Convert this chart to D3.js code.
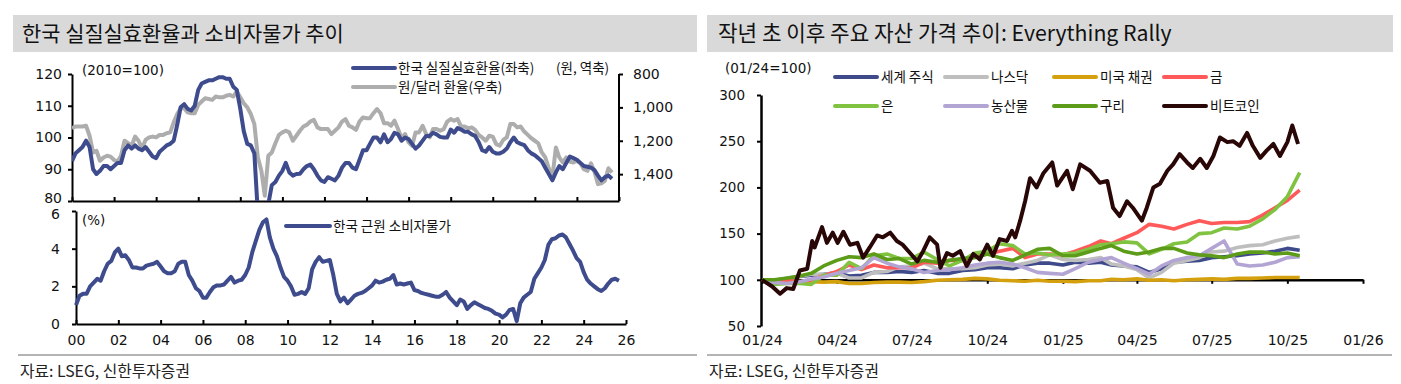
<!DOCTYPE html>
<html><head><meta charset="utf-8">
<script src="https://cdn.jsdelivr.net/npm/d3@7"></script>
<style>body{margin:0;background:#fff;} svg{display:block;}</style>
</head><body><svg id="c" width="1401" height="384"></svg>
<script>
// ---------------- DATA ----------------
const leftTitle = "한국 실질실효환율과 소비자물가 추이";
const rightTitle = "작년 초 이후 주요 자산 가격 추이: Everything Rally";
const sourceText = "자료: LSEG, 신한투자증권";

// bi-monthly observation months, Jan 2000 .. Sep 2025
const leftDates = d3.timeMonth.range(new Date(2000,0,1), new Date(2025,9,1), 2);

// Korea real effective exchange rate (2010=100), left axis
const reerValues = [
 92.5,95,96,97,99,97,  90,88.5,89.5,91,91,90,  91,92,92,96,97.5,96.5,  97.5,96.5,96,97,95.5,94,
 93.5,95.5,96.5,97.5,98,99,  104,109.5,110.5,109,108.5,110,  115,117,117.5,118,118,118.5,
 119,119,118.5,118.5,116,115,  109,102,98,97.5,95,76,  72,70,79,85,86,88,
 89.5,92,89,88,88.5,88.6,  90,91,91.5,90,88,86.5,  86,87.5,87,86.5,88,90.5,
 92,92,90.5,90,93,96,  96,98,100,100,98.5,101,  98.5,99.5,101.5,101,99,100,
 99.5,98,96.5,97.5,99,100.5,  100.5,101.5,101,100.2,100,100,  102.5,101.5,103,102.5,101.8,101.8,
 101,100.5,98.6,96,95.5,97,  95.5,95,95,95.5,96.5,98.5,  100,98.5,98,97.6,96,95,
 94.4,93.5,92.5,90.5,88.5,86.5,  89,91,90,92,94,93.5,  93,92,91,90.8,90.5,89.7,
 88,86.5,87.5,88,87
];
// KRW per USD, right axis (reversed)
const krwValues = [
 1125,1115,1115,1115,1110,1170,  1270,1260,1320,1300,1290,1295,  1315,1325,1290,1200,1215,1230,
 1175,1200,1245,1195,1180,1175,  1180,1165,1165,1155,1150,1090,  1040,1005,1005,1030,1035,1035,
 985,965,945,950,955,935,  940,940,930,925,935,905,  940,975,1000,1040,1100,1300,
 1380,1530,1290,1270,1215,1165,  1150,1140,1150,1200,1170,1140,  1115,1105,1085,1075,1120,1130,
 1130,1130,1160,1140,1120,1085,  1070,1110,1120,1135,1085,1060,  1065,1065,1035,1010,1035,1095,
 1095,1110,1080,1130,1185,1160,  1210,1230,1150,1150,1110,1160,  1180,1130,1130,1140,1130,1085,
 1070,1080,1070,1115,1115,1125,  1120,1135,1165,1180,1200,1170,  1175,1220,1230,1195,1180,1100,
 1100,1120,1115,1145,1165,1185,  1200,1215,1270,1300,1365,1420,  1240,1300,1330,1300,1325,1330,
 1320,1335,1370,1380,1335,1385,  1460,1455,1440,1365,1390
];
// Korea core CPI (% y/y)
const cpiValues = [
 1.0,1.5,1.6,1.6,2.0,2.2,  2.4,2.3,2.8,3.2,3.35,3.8,  4.0,3.6,3.65,3.4,3.0,3.0,  2.95,2.95,3.1,3.15,3.2,3.3,
 3.05,2.8,2.7,2.7,2.8,3.2,  3.3,3.3,2.6,2.3,1.9,1.75,  1.4,1.4,1.7,1.95,2.05,2.05,  2.1,2.3,2.5,2.2,2.3,2.35,
 2.6,3.0,3.8,4.4,5.0,5.4,  5.55,4.6,4.0,3.6,3.0,2.5,  2.3,2.0,1.55,1.6,1.7,1.6,  1.9,2.9,3.3,3.55,3.3,3.35,
 3.4,2.6,1.6,1.2,1.4,1.1,  1.3,1.5,1.6,1.65,1.75,1.9,  2.05,2.3,2.2,2.25,2.35,2.4,  2.6,2.1,2.15,2.1,2.15,2.2,
 1.8,1.75,1.65,1.6,1.55,1.5,  1.45,1.45,1.55,1.7,1.4,1.2,  1.0,1.3,1.2,0.8,1.0,1.15,  1.05,0.95,0.85,0.8,0.7,0.55,
 0.5,0.35,0.5,0.75,0.8,0.15,  1.1,1.4,1.55,1.7,2.4,2.7,  3.0,3.4,4.2,4.5,4.55,4.7,  4.75,4.6,4.25,3.9,3.5,3.3,
 2.75,2.35,2.15,2.0,1.85,1.75,  1.9,2.15,2.35,2.4,2.3
];

const topLeftTicks = [80, 90, 100, 110, 120];
const topRightTicks = [800, 1000, 1200, 1400];
const cpiTicks = [0, 2, 4, 6];

// Right chart: semi-monthly dates
const assetDates = ["2024-01-01","2024-01-16","2024-02-01","2024-02-16","2024-03-01","2024-03-16","2024-04-01","2024-04-16",
 "2024-05-01","2024-05-16","2024-06-01","2024-06-16","2024-07-01","2024-07-16","2024-08-01","2024-08-16",
 "2024-09-01","2024-09-16","2024-10-01","2024-10-16","2024-11-01","2024-11-16","2024-12-01","2024-12-16",
 "2025-01-01","2025-01-16","2025-02-01","2025-02-16","2025-03-01","2025-03-16","2025-04-01","2025-04-16",
 "2025-05-01","2025-05-16","2025-06-01","2025-06-16","2025-07-01","2025-07-16","2025-08-01","2025-08-16",
 "2025-09-01","2025-09-16","2025-10-01","2025-10-16"];
const worldEquity = [100,99.5,101.5,103.5,105,106,107.5,104,105,108,108,109,108,110,107,107,110,111,113,113,112,116,118,118,
 116,119,118,119,116,115,114,108,112,119,120,121,124,125,126,128,129,131,134,132];
const nasdaq = [100,99,102,104,106,106,107,102,102,108,109,114,115,118,112,112,112,113,116,117,115,118,121,127,
 122,121,122,124,117,115,111,102,108,118,121,124,130,131,135,137,138,142,145,147];
const usBonds = [100,99,99.5,98,98,97.5,98,96,96,97,97.5,97.5,97,98,99.5,100,100.5,101.5,101,99.5,99,98.5,99.5,98.5,
 98.5,98,99,99,100.5,100,101,99.5,100,99,100,100.5,101,100.5,101.5,101.5,102,102.5,102.5,102.5];
const gold = [100,98.5,99.5,97.5,100,104.5,109,116,111,116,113,113,113,119,118,121,121,125,128,131,134,124,128,128,
 127,131,136,142,139,145,151,160,158,155,160,164,161,162,162,163,170,178,186,197];
const silver = [100,95,96,96,95,105,105,119,112,126,128,123,123,130,122,115,121,129,131,139,137,128,129,127,
 128,129,133,138,139,141,140,128,133,139,141,150,151,156,155,158,166,176,190,216];
const agriculture = [100,97,96,98,101,103,107,110,113,124,118,114,112,108,110,111,113,116,118,119,117,113,108,107,
 106,112,119,122,124,118,112,106,115,121,124,126,134,142,117,115,116,119,124,125];
const copper = [100,100,102,104,107,115,121,125,124,128,122,123,117,121,119,121,123,124,128,124,121,127,133,134,
 126,126,130,134,137,131,128,130,134,134,129,127,126,124,128,130,130,128,129,126];

const btcDates = ["2024-01-01","2024-01-13","2024-01-23","2024-01-31","2024-02-08","2024-02-16","2024-02-25","2024-03-02",
 "2024-03-05","2024-03-14","2024-03-20","2024-03-27","2024-04-02","2024-04-09","2024-04-17","2024-04-26","2024-05-03",
 "2024-05-11","2024-05-20","2024-05-27","2024-06-05","2024-06-13","2024-06-20","2024-06-29","2024-07-08","2024-07-15",
 "2024-07-23","2024-08-01","2024-08-05","2024-08-13","2024-08-20","2024-08-29","2024-09-06","2024-09-14","2024-09-22",
 "2024-10-01","2024-10-08","2024-10-16","2024-10-25","2024-10-31","2024-11-04","2024-11-10","2024-11-16","2024-11-22",
 "2024-11-30","2024-12-08","2024-12-19","2024-12-25","2025-01-06","2025-01-13","2025-01-22","2025-02-03","2025-02-15",
 "2025-02-24","2025-03-03","2025-03-11","2025-03-20","2025-03-27","2025-04-07","2025-04-13","2025-04-21","2025-04-29",
 "2025-05-08","2025-05-15","2025-05-23","2025-06-01","2025-06-08","2025-06-17","2025-06-25","2025-07-03","2025-07-11",
 "2025-07-20","2025-07-27","2025-08-04","2025-08-13","2025-08-20","2025-08-29","2025-09-06","2025-09-14","2025-09-22",
 "2025-10-01","2025-10-07","2025-10-14"];
const bitcoin = [100,93,85,91,90,110,112,142,135,157,140,151,140,152,138,140,124,135,148,146,151,142,138,129,120,131,
 146,138,113,129,126,131,115,128,122,138,126,144,142,153,146,164,185,210,200,215,227,202,218,198,225,218,205,
 207,178,169,185,178,164,178,200,204,218,225,236,227,221,231,221,234,254,249,250,245,259,245,232,240,247,234,
 249,267,247];

const assetNames = ["세계 주식","나스닥","미국 채권","금","은","농산물","구리","비트코인"];
const assetColors = ["#3E4A8A","#BEBEBE","#D4A00E","#FF5959","#80C341","#B3A5D3","#5C9C18","#2A0707"];
const assetTicks = [50, 100, 150, 200, 250, 300];
const assetXTicks = ["2024-01-01","2024-04-01","2024-07-01","2024-10-01","2025-01-01","2025-04-01","2025-07-01","2025-10-01","2026-01-01"];

// ---------------- DRAW ----------------
const KR = "'Noto Sans CJK KR','Noto Sans',sans-serif";
const NUM = "'DejaVu Sans','Noto Sans CJK KR',sans-serif";
const svg = d3.select("#c");
const parse = d3.timeParse("%Y-%m-%d");

function fitText(sel, target) {
  const w = sel.node().getComputedTextLength();
  const fs = parseFloat(sel.attr("font-size"));
  sel.attr("font-size", (fs * target / w).toFixed(2));
}

// Title boxes
[[13, 697, leftTitle, 22, 322], [707, 1393, rightTitle, 718, 454]].forEach(([x0, x1, t, tx, tw]) => {
  svg.append("rect").attr("x", x0).attr("y", 15).attr("width", x1 - x0).attr("height", 37).attr("fill", "#D9D9D9");
  const s = svg.append("text").attr("x", tx).attr("y", 41).attr("font-family", KR).attr("font-size", 19)
    .attr("fill", "#111").text(t);
  fitText(s, tw);
});
// separators + source
[[18, 697], [707, 1392]].forEach(([x0, x1]) => {
  svg.append("line").attr("x1", x0).attr("x2", x1).attr("y1", 355).attr("y2", 355)
    .attr("stroke", "#B4B4B4").attr("stroke-width", 2);
  const s = svg.append("text").attr("x", x0 + 2).attr("y", 377).attr("font-family", KR).attr("font-size", 15)
    .attr("fill", "#222").text(sourceText);
  fitText(s, 170);
});

function styleAxis(g, fs) {
  g.select(".domain").attr("stroke", "#000").attr("stroke-width", 2);
  g.selectAll(".tick line").attr("stroke", "#000").attr("stroke-width", 2);
  g.selectAll("text").attr("font-family", NUM).attr("font-size", fs).attr("fill", "#111");
}

// ---- Top-left chart ----
const xT = d3.scaleTime().domain([new Date(2000,0,1), new Date(2026,0,1)]).range([72, 619]);
const yTL = d3.scaleLinear().domain([80, 120]).range([201, 74]);
const yTR = d3.scaleLinear().domain([800, 1561]).range([74, 201]);

svg.append("clipPath").attr("id", "clipT").append("rect").attr("x", 72).attr("y", 70).attr("width", 548).attr("height", 131);

const gTL = svg.append("g").attr("transform", "translate(72,0)")
  .call(d3.axisLeft(yTL).tickValues(topLeftTicks).tickSize(4).tickSizeOuter(0).tickPadding(6));
styleAxis(gTL, 14);
gTL.selectAll(".tick text").filter(d => d === 80).attr("dy", "0.1em");
const gTR = svg.append("g").attr("transform", "translate(619,0)")
  .call(d3.axisRight(yTR).tickValues(topRightTicks).tickSize(4).tickSizeOuter(0).tickPadding(10).tickFormat(d3.format(",")));
styleAxis(gTR, 14);
gTR.select(".domain").attr("d", "M0,74V201");
const gTB = svg.append("g").attr("transform", "translate(0,201)")
  .call(d3.axisBottom(xT).ticks(d3.timeYear.every(2)).tickSize(-4).tickSizeOuter(0).tickFormat(""));
styleAxis(gTB, 14);

const krwLine = d3.line().x((d, i) => xT(leftDates[i])).y(d => yTR(d)).curve(d3.curveLinear);
const reerLine = d3.line().x((d, i) => xT(leftDates[i])).y(d => yTL(d)).curve(d3.curveLinear);
const plotT = svg.append("g").attr("clip-path", "url(#clipT)");
plotT.append("path").attr("d", krwLine(krwValues)).attr("fill", "none").attr("stroke", "#ADADAD")
  .attr("stroke-width", 4).attr("stroke-linejoin", "round");
plotT.append("path").attr("d", reerLine(reerValues)).attr("fill", "none").attr("stroke", "#3E4C8E")
  .attr("stroke-width", 4).attr("stroke-linejoin", "round");

svg.append("text").attr("x", 82).attr("y", 75).attr("font-family", NUM).attr("font-size", 13.5).attr("fill", "#111").text("(2010=100)");
svg.append("text").attr("x", 556).attr("y", 73).attr("font-family", KR).attr("font-size", 13.5).attr("fill", "#111").text("(원, 역축)");
[["한국 실질실효환율(좌축)", "#3E4C8E", 68], ["원/달러 환율(우축)", "#ADADAD", 87]].forEach(([t, c, y]) => {
  svg.append("line").attr("x1", 353).attr("x2", 395).attr("y1", y).attr("y2", y).attr("stroke", c)
    .attr("stroke-width", 4).attr("stroke-linecap", "round");
  svg.append("text").attr("x", 398).attr("y", y + 5).attr("font-family", KR).attr("font-size", 13.5).attr("fill", "#111").text(t);
});

// ---- Bottom-left chart ----
const xB = d3.scaleTime().domain([new Date(2000,0,1), new Date(2026,0,1)]).range([76, 626]);
const yB = d3.scaleLinear().domain([0, 6]).range([324, 211]);
const gBL = svg.append("g").attr("transform", "translate(76,0)")
  .call(d3.axisLeft(yB).tickValues(cpiTicks).tickSize(4).tickSizeOuter(0).tickPadding(12).tickFormat(d3.format("d")));
styleAxis(gBL, 14);
gBL.selectAll(".tick text").filter(d => d === 6).attr("dy", "0.5em");
const gBB = svg.append("g").attr("transform", "translate(0,324)")
  .call(d3.axisBottom(xB).ticks(d3.timeYear.every(2)).tickSize(-4).tickSizeOuter(0).tickPadding(11)
    .tickFormat(d3.timeFormat("%y")));
styleAxis(gBB, 14);
const cpiLine = d3.line().x((d, i) => xB(leftDates[i])).y(d => yB(d)).curve(d3.curveLinear);
svg.append("path").attr("d", cpiLine(cpiValues)).attr("fill", "none").attr("stroke", "#3E4C8E")
  .attr("stroke-width", 4).attr("stroke-linejoin", "round");
svg.append("text").attr("x", 82).attr("y", 225).attr("font-family", NUM).attr("font-size", 13.5).attr("fill", "#111").text("(%)");
svg.append("line").attr("x1", 286).attr("x2", 330).attr("y1", 226).attr("y2", 226).attr("stroke", "#3E4C8E")
  .attr("stroke-width", 4).attr("stroke-linecap", "round");
svg.append("text").attr("x", 333).attr("y", 231).attr("font-family", KR).attr("font-size", 13.5).attr("fill", "#111").text("한국 근원 소비자물가");

// ---- Right chart ----
const xR = d3.scaleTime().domain([parse("2024-01-01"), parse("2026-01-01")]).range([762, 1363]);
const yR = d3.scaleLinear().domain([50, 300]).range([326, 95]);
const gRL = svg.append("g").attr("transform", "translate(761,0)")
  .call(d3.axisLeft(yR).tickValues(assetTicks).tickSize(4).tickSizeOuter(0).tickPadding(12));
styleAxis(gRL, 13.5);
gRL.select(".domain").attr("stroke-width", 2.5);
const gRX = svg.append("g").attr("transform", `translate(0,${yR(100)})`)
  .call(d3.axisBottom(xR).tickValues(assetXTicks.map(parse)).tickSize(4).tickSizeOuter(0).tickFormat(""));
styleAxis(gRX, 13.5);
gRX.select(".domain").attr("stroke-width", 2.5);
const gRLab = svg.append("g").attr("transform", "translate(0,330)")
  .call(d3.axisBottom(xR).tickValues(assetXTicks.map(parse)).tickSize(0).tickPadding(5).tickFormat(d3.timeFormat("%m/%y")));
styleAxis(gRLab, 14);
gRLab.select(".domain").remove();

const assetSeries = [worldEquity, nasdaq, usBonds, gold, silver, agriculture, copper];
const aLine = d3.line().x((d, i) => xR(parse(assetDates[i]))).y(d => yR(d)).curve(d3.curveLinear);
assetSeries.forEach((vals, k) => {
  svg.append("path").attr("d", aLine(vals)).attr("fill", "none").attr("stroke", assetColors[k])
    .attr("stroke-width", 3.6).attr("stroke-linejoin", "round");
});
const bLine = d3.line().x((d, i) => xR(parse(btcDates[i]))).y(d => yR(d)).curve(d3.curveLinear);
svg.append("path").attr("d", bLine(bitcoin)).attr("fill", "none").attr("stroke", assetColors[7])
  .attr("stroke-width", 4).attr("stroke-linejoin", "round");

svg.append("text").attr("x", 725).attr("y", 73).attr("font-family", NUM).attr("font-size", 13.5).attr("fill", "#111").text("(01/24=100)");
const legX = [835, 945, 1054, 1164];
assetNames.forEach((n, k) => {
  const lx = legX[k % 4], ly = k < 4 ? 77 : 106;
  svg.append("line").attr("x1", lx).attr("x2", lx + 42).attr("y1", ly).attr("y2", ly).attr("stroke", assetColors[k])
    .attr("stroke-width", 4).attr("stroke-linecap", "round");
  svg.append("text").attr("x", lx + 46).attr("y", ly + 5).attr("font-family", KR).attr("font-size", 13.5)
    .attr("fill", "#111").text(n);
});
</script></body></html>
